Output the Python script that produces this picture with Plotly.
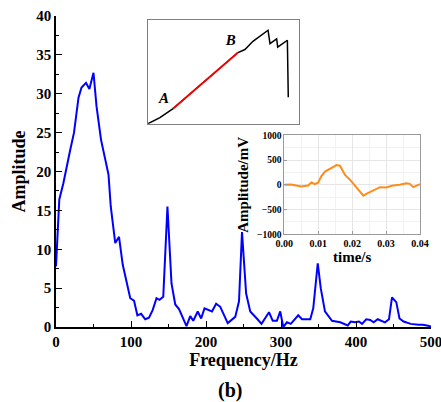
import plotly.graph_objects as go

# Main spectrum
freq = [0, 4.4, 9.8, 14, 19, 24, 30, 34, 40, 44.5, 50, 54, 60, 70, 73, 79, 84, 89, 93, 99,
        104, 108.5, 113.5, 119, 124, 129, 134, 138, 143, 148.6, 154, 159, 164, 174, 179, 183,
        189, 193.5, 198, 208, 213.5, 219, 229, 239, 244, 248, 253.5, 259, 268.7, 274, 284,
        289, 294.5, 299, 303, 308, 313, 323, 328, 339, 343, 349, 353, 358.6, 368, 379, 389,
        393, 398.6, 404, 408, 413.7, 419, 423.5, 429, 434, 438.6, 444, 448, 453.7, 458,
        463.5, 473, 483.5, 489, 494.6, 500]
amp = [7.8, 16.4, 18.5, 20.7, 22.8, 25.0, 29.5, 30.8, 31.4, 30.6, 32.7, 28.4, 24.1, 19.6,
       15.5, 10.8, 11.6, 8.0, 6.3, 3.7, 3.4, 1.5, 1.7, 1.0, 1.2, 2.2, 3.7, 3.5, 3.9, 15.5,
       5.6, 2.9, 2.3, 0.1, 1.4, 0.8, 2.0, 1.1, 2.4, 2.0, 3.0, 2.6, 0.5, 1.3, 3.3, 12.2, 4.3,
       2.0, 1.0, 0.4, 1.9, 0.8, 0.8, 2.0, 0.0, 0.6, 0.4, 1.5, 1.0, 1.0, 2.4, 8.2, 5.0, 2.0,
       0.8, 0.6, 0.2, 0.7, 0.6, 0.7, 0.4, 1.0, 0.9, 0.6, 1.0, 0.8, 0.6, 1.0, 3.8, 3.2, 1.1,
       0.7, 0.4, 0.3, 0.3, 0.2, 0.05]

# Inset 1: loading curve (normalised units)
curve_x = [0.0, 0.079, 0.166, 0.389, 0.596, 0.642, 0.695, 0.795, 0.808, 0.852, 0.859, 0.923, 0.929]
curve_y = [0.0, 0.058, 0.144, 0.423, 0.683, 0.712, 0.791, 0.897, 0.769, 0.814, 0.734, 0.801, 0.253]
red_x = [0.166, 0.389, 0.596]
red_y = [0.144, 0.423, 0.683]
label_x = [0.106, 0.548]
label_y = [0.231, 0.791]
label_txt = ["A", "B"]

# Inset 2: time signal
time_s = [0.0, 0.002, 0.005, 0.007, 0.008, 0.009, 0.010, 0.011, 0.012, 0.0135, 0.0154,
          0.0164, 0.0179, 0.0194, 0.021, 0.0233, 0.0243, 0.0257, 0.0282, 0.030, 0.032,
          0.034, 0.036, 0.037, 0.038, 0.040]
amp_mv = [0, 5, -33, -15, 47, 13, 47, 180, 267, 333, 400, 387, 200, 100, -40, -220, -180,
          -133, -47, -53, -13, 0, 33, 20, -47, 13]

serif = "Liberation Serif"

fig = go.Figure()
fig.add_trace(go.Scatter(x=freq, y=amp, mode="lines", line=dict(color="#0000ff", width=2),
                         xaxis="x", yaxis="y", showlegend=False))
fig.add_trace(go.Scatter(x=curve_x, y=curve_y, mode="lines", line=dict(color="black", width=1.5),
                         xaxis="x2", yaxis="y2", showlegend=False))
fig.add_trace(go.Scatter(x=red_x, y=red_y, mode="lines", line=dict(color="#ff0000", width=1.8),
                         xaxis="x2", yaxis="y2", showlegend=False))
fig.add_trace(go.Scatter(x=label_x, y=label_y, mode="text", text=label_txt,
                         textfont=dict(family=serif, size=15, color="black", style="italic", weight="bold"),
                         xaxis="x2", yaxis="y2", showlegend=False))
fig.add_trace(go.Scatter(x=time_s, y=amp_mv, mode="lines", line=dict(color="#ff8c1a", width=2),
                         xaxis="x3", yaxis="y3", showlegend=False))

fig.update_layout(
    width=441, height=402,
    margin=dict(l=56, r=10, t=16, b=75),
    paper_bgcolor="white", plot_bgcolor="white",
    font=dict(family=serif, color="black"),
    xaxis=dict(range=[0, 500], domain=[0, 1], showline=True, linecolor="black", linewidth=1.5,
               automargin=False, ticklabeloverflow="allow",
               ticks="inside", ticklen=6, tickwidth=1.2, tickcolor="black", dtick=100,
               minor=dict(ticks="inside", ticklen=3.5, dtick=50, tickcolor="black"),
               showgrid=False, zeroline=False,
               tickfont=dict(family=serif, size=15, weight="bold"),
               title=dict(text="Frequency/Hz", font=dict(family=serif, size=18, weight="bold"), standoff=4)),
    yaxis=dict(range=[0, 40], domain=[0, 1], showline=True, linecolor="black", linewidth=1.5,
               automargin=False, ticklabeloverflow="allow",
               ticks="inside", ticklen=6, tickwidth=1.2, tickcolor="black", dtick=5,
               minor=dict(ticks="inside", ticklen=3.5, dtick=2.5, tickcolor="black"),
               showgrid=False, zeroline=False,
               tickfont=dict(family=serif, size=15, weight="bold"),
               title=dict(text="Amplitude", font=dict(family=serif, size=18, weight="bold"), standoff=6)),
    xaxis2=dict(domain=[0.2453, 0.648], range=[0, 1], anchor="y2", showline=True, mirror=True,
                automargin=False,
                linecolor="#808080", linewidth=1, showticklabels=False, ticks="", showgrid=False,
                zeroline=False),
    yaxis2=dict(domain=[0.6538, 0.9887], range=[0, 1], anchor="x2", showline=True, mirror=True,
                automargin=False,
                linecolor="#808080", linewidth=1, showticklabels=False, ticks="", showgrid=False,
                zeroline=False),
    xaxis3=dict(domain=[0.6088, 0.9707], range=[0, 0.04], anchor="y3", showline=True, mirror=True,
                automargin=False, ticklabeloverflow="allow",
                linecolor="#9a9a9a", linewidth=1, dtick=0.01, tickformat=".2f",
                ticks="inside", ticklen=3, tickcolor="#9a9a9a",
                showgrid=True, gridcolor="#e6e6e6", gridwidth=1, zeroline=False,
                minor=dict(showgrid=True, gridcolor="#f2f2f2", dtick=0.005),
                tickfont=dict(family=serif, size=10, weight="bold"),
                title=dict(text="time/s", font=dict(family=serif, size=15, weight="bold"), standoff=2)),
    yaxis3=dict(domain=[0.298, 0.6164], range=[-1000, 1000], anchor="x3", showline=True, mirror=True,
                automargin=False, ticklabeloverflow="allow",
                linecolor="#9a9a9a", linewidth=1, dtick=500,
                ticks="inside", ticklen=3, tickcolor="#9a9a9a",
                showgrid=True, gridcolor="#e6e6e6", gridwidth=1, zeroline=False,
                minor=dict(showgrid=True, gridcolor="#f2f2f2", dtick=250),
                tickfont=dict(family=serif, size=9.5, weight="bold"),
                title=dict(text="Amplitude/mV", font=dict(family=serif, size=15, weight="bold"), standoff=4)),
    annotations=[dict(text="(b)", x=0.464, y=-0.2026, xref="paper", yref="paper", showarrow=False,
                      font=dict(family=serif, size=20, weight="bold"), xanchor="center", yanchor="middle")],
)

fig.write_html("out.html")
